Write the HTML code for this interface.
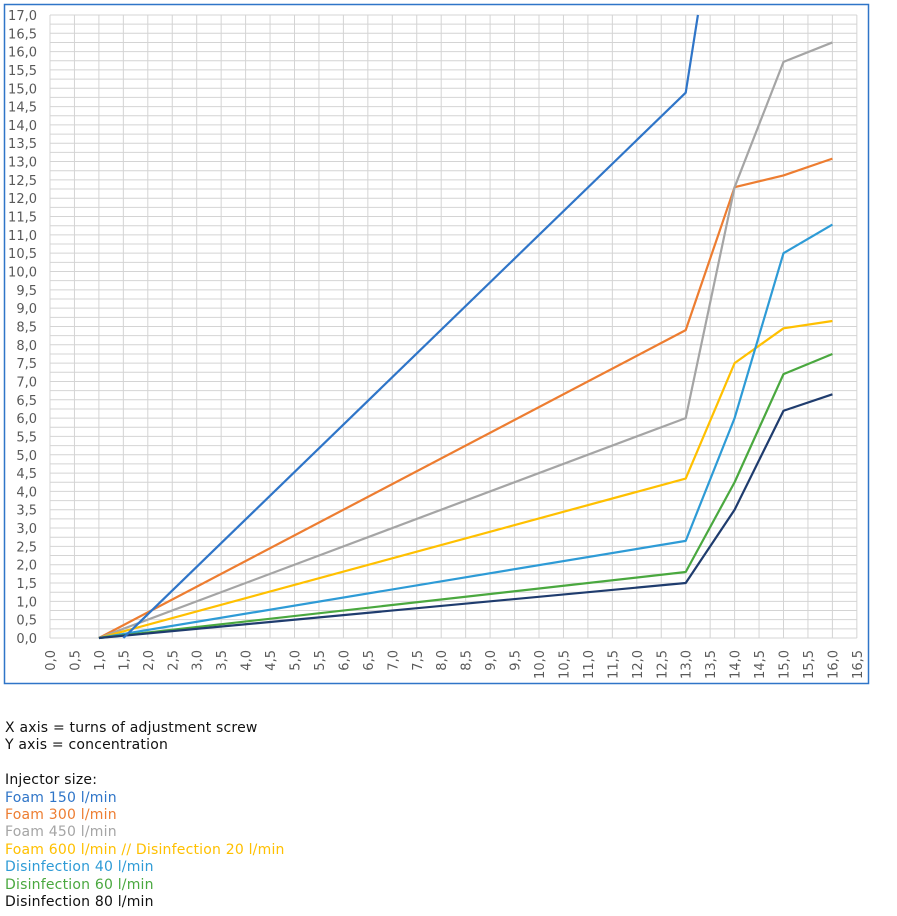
<!DOCTYPE html>
<html><head><meta charset="utf-8"><style>
body{margin:0;background:#fff;width:897px;height:916px;overflow:hidden;font-family:"DejaVu Sans","Liberation Sans",sans-serif;}
#t{position:absolute;left:5px;top:720px;font-size:14px;letter-spacing:0.2px;line-height:17.4px;color:#111;}
</style></head><body>
<svg id="c" width="897" height="690" style="position:absolute;left:0;top:0" font-family="DejaVu Sans, Liberation Sans, sans-serif"></svg>
<div id="t">
<div>X axis = turns of adjustment screw</div>
<div>Y axis = concentration</div>
<div>&nbsp;</div>
<div>Injector size:</div>
<div style="color:#2f75c8">Foam 150 l/min</div>
<div style="color:#ed7d31">Foam 300 l/min</div>
<div style="color:#a5a5a5">Foam 450 l/min</div>
<div style="color:#ffc000">Foam 600 l/min // Disinfection 20 l/min</div>
<div style="color:#2e9bd6">Disinfection 40 l/min</div>
<div style="color:#4aa83f">Disinfection 60 l/min</div>
<div style="color:#111">Disinfection 80 l/min</div>
</div>
<script>
const X=v=>50+48.9*v, Y=v=>638-36.65*v;
let s='<rect x="4.5" y="4.5" width="864" height="679" fill="#fff" stroke="#2f75c8" stroke-width="1.5"/>';
for(let i=0;i<=68;i++){const y=Y(i*0.25);s+=`<line x1="50" x2="${X(16.5)}" y1="${y}" y2="${y}" stroke="#d4d4d4"/>`;}
for(let i=0;i<=33;i++){const x=X(i*0.5);s+=`<line x1="${x}" x2="${x}" y1="${Y(17)}" y2="638" stroke="#d4d4d4"/>`;}
for(let i=0;i<=34;i++){const v=(i*0.5).toFixed(1).replace('.',',');s+=`<text x="37" y="${Y(i*0.5)+5}" text-anchor="end" font-size="13" fill="#595959">${v}</text>`;}
for(let i=0;i<=33;i++){const v=(i*0.5).toFixed(1).replace('.',',');const x=X(i*0.5)+5;s+=`<text transform="translate(${x},650) rotate(-90)" text-anchor="end" font-size="13" fill="#595959">${v}</text>`;}
const S=[
["#ed7d31",[[1,0],[13,8.4],[14,12.3],[15,12.62],[16,13.08]]],
["#a5a5a5",[[1,0],[13,6],[14,12.3],[15,15.72],[16,16.25]]],
["#ffc000",[[1,0],[13,4.35],[14,7.5],[15,8.45],[16,8.65]]],
["#2e9bd6",[[1,0],[13,2.65],[14,6.0],[15,10.5],[16,11.28]]],
["#4aa83f",[[1,0],[13,1.8],[14,4.25],[15,7.2],[16,7.75]]],
["#1f3c6e",[[1,0],[13,1.5],[14,3.5],[15,6.2],[16,6.65]]],
["#2f75c8",[[1.5,0],[13,14.88],[13.25,17]]]];
for(const [c,p] of S){s+=`<polyline fill="none" stroke="${c}" stroke-width="2.2" stroke-linejoin="round" points="${p.map(q=>X(q[0])+','+Y(q[1])).join(' ')}"/>`;}
document.getElementById('c').innerHTML=s;
</script>
</body></html>
